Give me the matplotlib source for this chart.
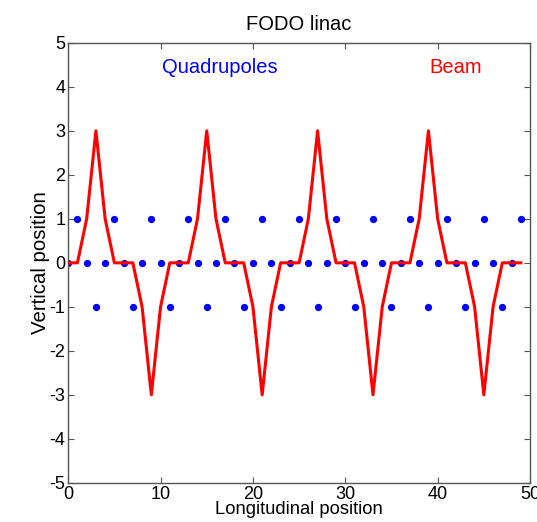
import matplotlib as mpl
mpl.use("Agg")
import matplotlib.pyplot as plt

mpl.rcParams["font.family"] = ["Liberation Sans", "DejaVu Sans"]
mpl.rcParams["axes.unicode_minus"] = False

# quadrupole marker positions (longitudinal) at each vertical level
QUAD_UP_X = [1, 5, 9, 13, 17, 21, 25, 29, 33, 37, 41, 45, 49]
QUAD_MID_X = [0, 2, 4, 6, 8, 10, 12, 14, 16, 18, 20, 22, 24,
              26, 28, 30, 32, 34, 36, 38, 40, 42, 44, 46, 48]
QUAD_DOWN_X = [3, 7, 11, 15, 19, 23, 27, 31, 35, 39, 43, 47]
QUAD_LEVELS = [1, 0, -1]

# beam trajectory sampled at every unit of longitudinal position
BEAM_X = list(range(0, 50))
BEAM_Y = [0, 0, 1, 3, 1, 0, 0, 0, -1, -3, -1, 0,
          0, 0, 1, 3, 1, 0, 0, 0, -1, -3, -1, 0,
          0, 0, 1, 3, 1, 0, 0, 0, -1, -3, -1, 0,
          0, 0, 1, 3, 1, 0, 0, 0, -1, -3, -1, 0,
          0, 0]

fig = plt.figure(figsize=(5.37, 5.22), dpi=100)
ax = fig.add_axes([0.127, 0.075, 0.860, 0.843])

for xs, level in zip([QUAD_UP_X, QUAD_MID_X, QUAD_DOWN_X], QUAD_LEVELS):
    ax.plot(xs, [level] * len(xs), linestyle="none", marker="o",
            markersize=4.2, color="#0000ff", zorder=2)

ax.plot(BEAM_X, BEAM_Y, color="#ff0000", linewidth=2.2, zorder=3)

ax.text(16.4, 4.45, "Quadrupoles", color="#0000ff", fontsize=14.5,
        ha="center", va="center")
ax.text(42.0, 4.45, "Beam", color="#ff0000", fontsize=14.5,
        ha="center", va="center")

ax.set_xlim(0, 50)
ax.set_ylim(-5, 5)
ax.set_xticks([0, 10, 20, 30, 40, 50])
ax.set_yticks(range(-5, 6))
ax.tick_params(direction="in", top=True, right=True, labelsize=13,
               length=4, color="#555555", pad=2)
for spine in ax.spines.values():
    spine.set_color("#555555")
    spine.set_linewidth(1.0)

ax.set_title("FODO linac", fontsize=14.5, pad=9)
ax.set_xlabel("Longitudinal position", fontsize=13.2, labelpad=-1)
ax.set_ylabel("Vertical position", fontsize=14.7, labelpad=0)

fig.savefig("out.png", dpi=100)
